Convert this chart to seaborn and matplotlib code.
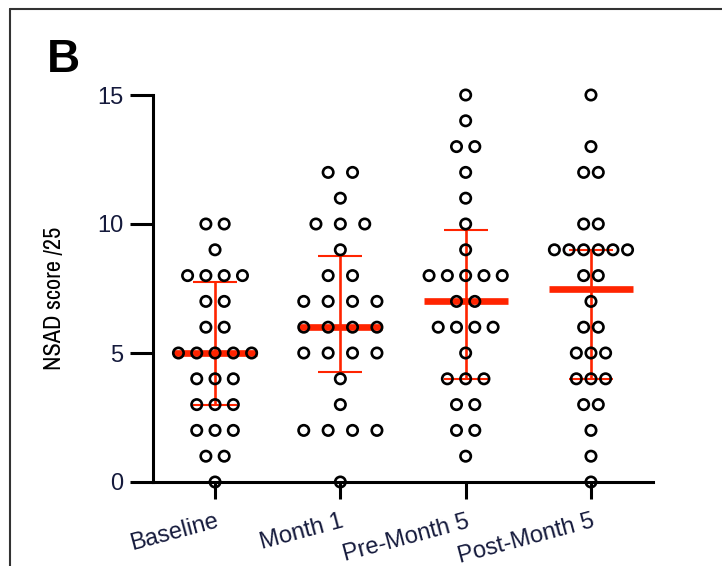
import numpy as np
import pandas as pd
import seaborn as sns
import matplotlib
matplotlib.use("Agg")
import matplotlib.pyplot as plt
from matplotlib.lines import Line2D

# ---------------- data ----------------
categories = ["Baseline", "Month 1", "Pre-Month 5", "Post-Month 5"]
baseline = [10, 10, 9, 8, 8, 8, 8, 7, 7, 6, 6, 5, 5, 5, 5, 5, 4, 4, 4, 3, 3, 3, 2, 2, 2, 1, 1, 0]
month1 = [12, 12, 11, 10, 10, 10, 9, 8, 8, 7, 7, 7, 7, 6, 6, 6, 6, 5, 5, 5, 5, 4, 3, 2, 2, 2, 2, 0]
pre_month5 = [15, 14, 13, 13, 12, 11, 10, 9, 8, 8, 8, 8, 8, 7, 7, 6, 6, 6, 6, 5, 4, 4, 4, 3, 3, 2, 2, 1]
post_month5 = [15, 13, 12, 12, 10, 10, 9, 9, 9, 9, 9, 9, 8, 8, 7, 6, 6, 5, 5, 5, 4, 4, 4, 3, 3, 2, 1, 0]
y_ticks = [0, 5, 10, 15]
y_label = "NSAD score /25"
panel_label = "B"

groups = [baseline, month1, pre_month5, post_month5]

RED = "#FF2400"
TICK_COLOR = "#151a3c"

sns.set_style("ticks")
plt.rcParams["font.family"] = ["Liberation Sans", "DejaVu Sans"]

fig = plt.figure(figsize=(7.22, 5.66), dpi=100)
ax = fig.add_axes([153 / 722, 1 - 482 / 566, 500 / 722, 387 / 566])

# -------- column scatter positions (GraphPad-like rows) --------
spread = 0.584
rows = []
for gi, (cat, vals) in enumerate(zip(categories, groups)):
    vals = np.asarray(vals)
    uniq, counts = np.unique(vals, return_counts=True)
    m = counts.max()
    step = spread / (m - 1) if m > 1 else 0
    for v, k in zip(uniq, counts):
        for i in range(k):
            rows.append({"group": cat, "xpos": gi + (i - (k - 1) / 2) * step, "score": v})
df = pd.DataFrame(rows)

# -------- median with interquartile range --------
for gi, vals in enumerate(groups):
    med = np.median(vals)
    q1 = np.percentile(vals, 25, method="weibull")
    q3 = np.percentile(vals, 75, method="weibull")
    ax.vlines(gi, q1, q3, color=RED, lw=1.9, zorder=2)
    ax.hlines([q1, q3], gi - 0.175, gi + 0.175, color=RED, lw=1.5, zorder=2)
    ax.hlines(med, gi - 0.335, gi + 0.335, color=RED, lw=4.8, zorder=3)

sns.scatterplot(data=df, x="xpos", y="score", ax=ax, marker="o", s=56,
                color="black", edgecolor="black", linewidth=1.9,
                clip_on=False, zorder=5, legend=False)
ax.collections[-1].set_facecolor("none")

# -------- axes styling --------
ax.set_xlim(-0.495, 3.495)
ax.set_ylim(0, 15)
ax.set_xticks(range(len(categories)))
ax.set_xticklabels(categories, rotation=15, ha="right", rotation_mode="anchor",
                   fontsize=17, color=TICK_COLOR)
ax.set_yticks(y_ticks)
ax.set_yticklabels([str(t) for t in y_ticks], fontsize=17, color=TICK_COLOR)
ax.tick_params(axis="y", length=16.5, width=2.2, pad=5, color="black")
ax.tick_params(axis="x", length=12.5, width=2.2, pad=8, color="black")
for side in ["top", "right"]:
    ax.spines[side].set_visible(False)
for side in ["left", "bottom"]:
    ax.spines[side].set_linewidth(2.2)
    ax.spines[side].set_color("black")
ax.set_xlabel("")
ax.set_ylabel(y_label, fontsize=17.5, color="black",
              family=["Archivo Narrow", "Liberation Sans", "DejaVu Sans"])
ax.yaxis.set_label_coords(-0.176, 0.475)
ax.set_facecolor("white")

# -------- panel letter and frame --------
fig.text(47 / 722, 1 - 72 / 566, panel_label, fontsize=33, fontweight="bold",
         ha="left", va="baseline", color="black")
fig.add_artist(Line2D([10 / 722, 10 / 722], [0, 1 - 9 / 566], transform=fig.transFigure,
                      color="#333333", lw=1.5))
fig.add_artist(Line2D([10 / 722, 1], [1 - 9 / 566, 1 - 9 / 566], transform=fig.transFigure,
                      color="#333333", lw=1.5))

fig.savefig("out.png", dpi=100, facecolor="white")
